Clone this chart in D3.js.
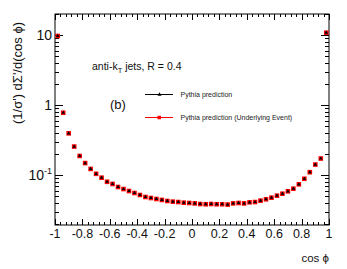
<!DOCTYPE html>
<html><head><meta charset="utf-8">
<script src="https://cdn.jsdelivr.net/npm/d3@7"></script>
<style>body{margin:0;background:#fff}svg{display:block}text{font-family:"Liberation Sans",Arial,Helvetica,sans-serif}</style>
</head><body><svg id="c" width="347" height="269"></svg>
<script>
// bin centres (cos phi)
const cosPhi = [-0.98,-0.94,-0.90,-0.86,-0.82,-0.78,-0.74,-0.70,-0.66,-0.62,-0.58,-0.54,-0.50,-0.46,-0.42,-0.38,-0.34,-0.30,-0.26,-0.22,-0.18,-0.14,-0.10,-0.06,-0.02,
  0.02,0.06,0.10,0.14,0.18,0.22,0.26,0.30,0.34,0.38,0.42,0.46,0.50,0.54,0.58,0.62,0.66,0.70,0.74,0.78,0.82,0.86,0.90,0.94,0.98];
const pythia = [9.7,0.776,0.394,0.255,0.187,0.148,0.122,0.104,0.0915,0.080,0.0744,0.0674,0.063,0.059,0.0553,0.0518,0.0485,0.0469,0.0454,0.044,0.0425,0.0416,0.0411,0.0402,0.0398,
  0.0393,0.0385,0.0382,0.0385,0.0382,0.0382,0.0378,0.0393,0.0398,0.0393,0.0407,0.0411,0.043,0.045,0.0474,0.0506,0.054,0.0585,0.0637,0.0736,0.0883,0.1096,0.141,0.172,10.8];
const pythiaUE = [9.7,0.776,0.394,0.255,0.187,0.148,0.122,0.104,0.0915,0.080,0.0744,0.0674,0.063,0.059,0.0553,0.0518,0.0485,0.0469,0.0454,0.044,0.0425,0.0416,0.0411,0.0402,0.0398,
  0.0393,0.0385,0.0382,0.0385,0.0382,0.0382,0.0378,0.0393,0.0398,0.0393,0.0407,0.0411,0.043,0.045,0.0474,0.0506,0.054,0.0585,0.0637,0.0736,0.0883,0.1096,0.141,0.172,10.8];
const xTickValues = [-1,-0.8,-0.6,-0.4,-0.2,0,0.2,0.4,0.6,0.8,1];
const xTickLabels = ["-1","-0.8","-0.6","-0.4","-0.2","0","0.2","0.4","0.6","0.8","1"];
const yTickValues = [0.1,1,10];
const yTickBase = ["10","1","10"];
const yTickExp = ["-1","",""];
const yDomain = [0.0193, 20];

const svg = d3.select("#c");
const L=55, R=329, T=14, B=225;
const x = d3.scaleLinear().domain([-1,1]).range([L,R]);
const y = d3.scaleLog().domain(yDomain).range([B,T]);

// minor ticks
const xMinor = d3.range(-1, 1.0001, 0.04);
const yMinor = [];
[0.01,0.1,1,10].forEach(d=>{for(let k=2;k<=9;k++){const v=d*k; if(v>=yDomain[0]&&v<=yDomain[1]) yMinor.push(v);}});

const g = svg.append("g");
// frame
g.append("rect").attr("x",L).attr("y",T).attr("width",R-L).attr("height",B-T)
  .attr("fill","none").attr("stroke","#000").attr("stroke-width",1);

const tk = g.append("g").attr("stroke","#000").attr("stroke-width",1);
xMinor.forEach(v=>{
  const xx=Math.round(x(v))+0.5;
  tk.append("line").attr("x1",xx).attr("x2",xx).attr("y1",B).attr("y2",B-3);
  tk.append("line").attr("x1",xx).attr("x2",xx).attr("y1",T).attr("y2",T+3);
});
xTickValues.forEach(v=>{
  const xx=Math.round(x(v))+0.5;
  tk.append("line").attr("x1",xx).attr("x2",xx).attr("y1",B).attr("y2",B-6);
  tk.append("line").attr("x1",xx).attr("x2",xx).attr("y1",T).attr("y2",T+6);
});
yMinor.forEach(v=>{
  const yy=Math.round(y(v))+0.5;
  tk.append("line").attr("x1",L).attr("x2",L+4).attr("y1",yy).attr("y2",yy);
  tk.append("line").attr("x1",R).attr("x2",R-4).attr("y1",yy).attr("y2",yy);
});
yTickValues.forEach(v=>{
  const yy=Math.round(y(v))+0.5;
  tk.append("line").attr("x1",L).attr("x2",L+8).attr("y1",yy).attr("y2",yy);
  tk.append("line").attr("x1",R).attr("x2",R-8).attr("y1",yy).attr("y2",yy);
});

// x labels
xTickValues.forEach((v,i)=>{
  g.append("text").attr("x",x(v)).attr("y",238).attr("text-anchor","middle")
   .attr("font-size",12.5).attr("fill","#111").text(xTickLabels[i]);
});
// y labels
yTickValues.forEach((v,i)=>{
  const t=g.append("text").attr("x",52).attr("y",y(v)+5).attr("text-anchor","end").attr("font-size",14).attr("fill","#111");
  t.append("tspan").text(yTickBase[i]);
  if(yTickExp[i]) t.append("tspan").attr("font-size",9).attr("dy",-6).text(yTickExp[i]);
});

// axis titles
g.append("text").attr("transform","translate(22,73) rotate(-90)").attr("text-anchor","middle")
  .attr("font-size",13).attr("fill","#111").text("(1/σ') dΣ'/d(cos ϕ)");
g.append("text").attr("x",329).attr("y",262).attr("text-anchor","end").attr("font-size",11.5).attr("fill","#111").text("cos ϕ");

// annotation
g.append("text").attr("x",92).attr("y",70).attr("font-size",10.5).attr("fill","#111").call(t=>{
  t.append("tspan").text("anti-k");
  t.append("tspan").attr("font-size",7.5).attr("dy",3).text("T");
  t.append("tspan").attr("dy",-3).text(" jets, R = 0.4");
});
g.append("text").attr("x",110).attr("y",109).attr("font-size",13).attr("fill","#111").text("(b)");

// legend
const leg=[{y:94.5,color:"#000",shape:"tri",label:"Pythia prediction"},
           {y:117.5,color:"#f00",shape:"sq",label:"Pythia prediction (Underlying Event)"}];
leg.forEach(d=>{
  g.append("line").attr("x1",145).attr("x2",173).attr("y1",d.y).attr("y2",d.y).attr("stroke",d.color).attr("stroke-width",1);
  if(d.shape==="sq") g.append("rect").attr("x",157.5).attr("y",d.y-1.75).attr("width",3.5).attr("height",3.5).attr("fill",d.color);
  else g.append("path").attr("transform",`translate(159.5,${d.y})`).attr("d",d3.symbol(d3.symbolTriangle,7)()).attr("fill",d.color);
  g.append("text").attr("x",180.5).attr("y",d.y+2.5).attr("font-size",7).attr("fill","#222").text(d.label);
});

// data
const ue = cosPhi.map((c,i)=>({c,v:pythiaUE[i]}));
const py = cosPhi.map((c,i)=>({c,v:pythia[i]}));
g.append("g").selectAll("rect").data(ue).join("rect")
  .attr("x",d=>x(d.c)-2.3).attr("y",d=>y(d.v)-2.3).attr("width",4.6).attr("height",4.6).attr("fill","#f00");
g.append("g").selectAll("path").data(py).join("path")
  .attr("transform",d=>`translate(${x(d.c)},${y(d.v)})`)
  .attr("d",d3.symbol(d3.symbolTriangle,6)()).attr("fill","#000");
</script></body></html>
